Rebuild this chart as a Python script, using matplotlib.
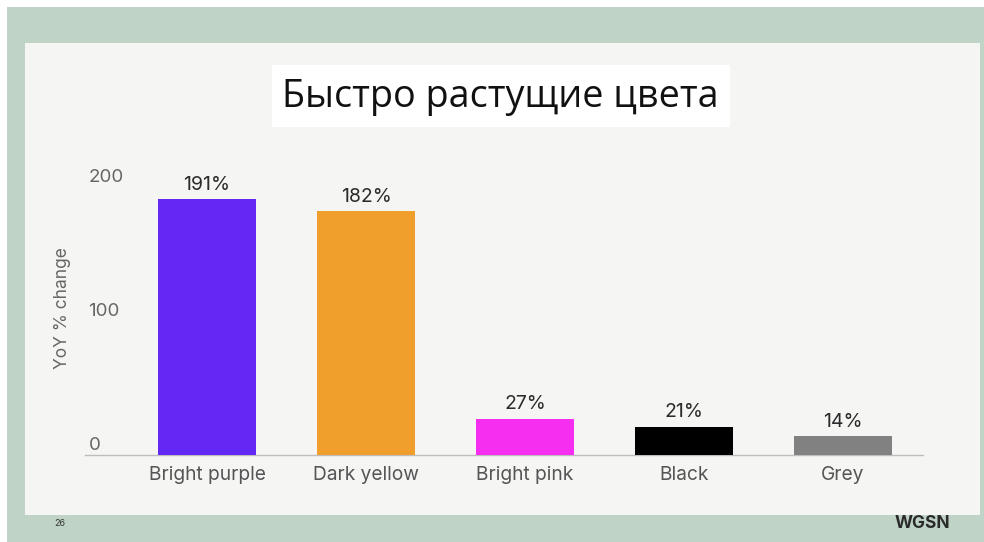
import matplotlib
matplotlib.use("Agg")
import matplotlib.pyplot as plt
from matplotlib.patches import Rectangle
from matplotlib.transforms import ScaledTranslation

categories = ["Bright purple", "Dark yellow", "Bright pink", "Black", "Grey"]
values = [191, 182, 27, 21, 14]
bar_colors = ["#6428f5", "#f09e2c", "#f52ef0", "#000000", "#818181"]
yticks = [0, 100, 200]
ytick_labels = ["0", "100", "200"]
title = "Быстро растущие цвета"
ylabel = "YoY % change"

FONT = "Inter"

W, H = 984, 542
fig = plt.figure(figsize=(W / 100, H / 100), dpi=100)
fig.patch.set_facecolor("white")

def fx(x):
    return x / W

def fy(y):
    return 1 - y / H

# sage frame
fig.add_artist(Rectangle((fx(7), fy(542)), fx(984 - 7), (542 - 7) / H,
                         transform=fig.transFigure, facecolor="#bfd4c7",
                         edgecolor="none", zorder=0))
# light slide panel
fig.add_artist(Rectangle((fx(25), fy(515)), fx(980 - 25), (515 - 43) / H,
                         transform=fig.transFigure, facecolor="#f5f5f4",
                         edgecolor="none", zorder=0))
# title box
fig.add_artist(Rectangle((fx(272), fy(127)), fx(730 - 272), (127 - 65) / H,
                         transform=fig.transFigure, facecolor="white",
                         edgecolor="none", zorder=1))
fig.text(fx(500), fy(97), title, ha="center", va="center", fontsize=27.2,
         family=["Open Sans", "DejaVu Sans"], color="#111111", zorder=2)

# footer
fig.text(fx(60), fy(523), "26", ha="center", va="center", fontsize=6.5,
         family=FONT, color="#333333")
fig.text(fx(922), fy(523), "WGSN", ha="center", va="center", fontsize=12.5,
         family=FONT, fontweight="bold", color="#2a2a2a")

ax = fig.add_axes([85 / W, 1 - 455 / H, 838 / W, 268 / H])
ax.set_facecolor("none")
x = list(range(len(categories)))
bars = ax.bar(x, values, width=0.616, color=bar_colors, zorder=3)
ax.bar_label(bars, labels=[f"{v}%" for v in values], padding=4,
             fontsize=14, family=FONT, color="#2b2b2b")
ax.set_xlim(-0.767, 4.503)
ax.set_ylim(0, 200)

for s in ["top", "right", "left"]:
    ax.spines[s].set_visible(False)
ax.spines["bottom"].set_color("#bdbdbd")
ax.spines["bottom"].set_linewidth(1.0)

ax.set_xticks(x, categories)
ax.tick_params(axis="x", length=0, pad=8, labelsize=13.8, labelcolor="#555555")
for lab in ax.get_xticklabels():
    lab.set_family(FONT)

ax.set_yticks(yticks, ytick_labels)
ax.tick_params(axis="y", length=0, pad=-2.5, labelsize=13.5, labelcolor="#666666")
off = ScaledTranslation(0, 12 / 100, fig.dpi_scale_trans)
for t in ax.yaxis.get_major_ticks():
    t.label1.set_horizontalalignment("left")
    t.label1.set_family(FONT)
    t.label1.set_transform(t.label1.get_transform() + off)

ax.set_ylabel(ylabel, fontsize=12.5, family=FONT, color="#666666")
ax.yaxis.set_label_coords(-0.017, 0.549)

fig.savefig("out.png", dpi=100, facecolor=fig.get_facecolor())
